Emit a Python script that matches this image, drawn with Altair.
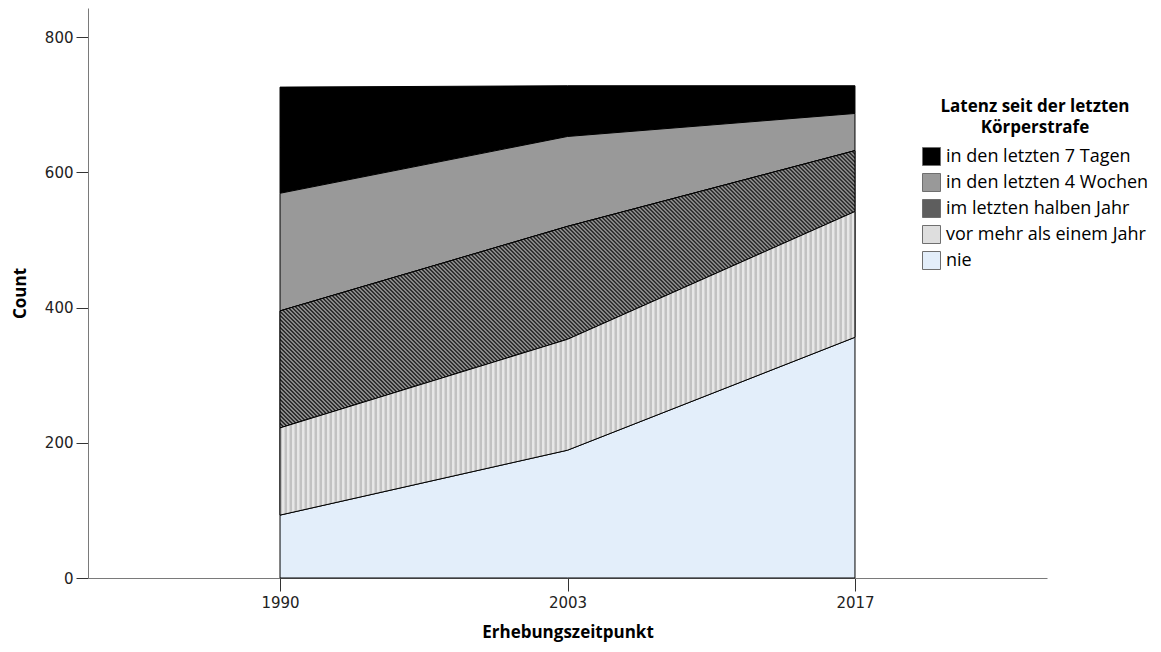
import math
import altair as alt
import pandas as pd

# ---------------- data ----------------
years = ["1990", "2003", "2017"]
categories = [
    "in den letzten 7 Tagen",
    "in den letzten 4 Wochen",
    "im letzten halben Jahr",
    "vor mehr als einem Jahr",
    "nie",
]
tage7 = [157, 75, 41]
wochen4 = [174, 133, 55]
halbjahr = [173, 167, 90]
mehrjahr = [129, 164, 186]
nie = [93, 189, 356]
y_ticks = [0, 200, 400, 600, 800]

colors = ["#000000", "#999999", "#5e5e5e", "#dedede", "#e3eefa"]

series = [tage7, wochen4, halbjahr, mehrjahr, nie]
rows = []
for ci, (cat, vals) in enumerate(zip(categories, series)):
    for yr, v in zip(years, vals):
        rows.append({"Jahr": yr, "Latenz": cat, "Count": v, "rank": len(categories) - 1 - ci})
df = pd.DataFrame(rows)

# ---------------- layout ----------------
PLOT_W, PLOT_H = 959, 570
YMAX = 843
PAD = 0.668

step = PLOT_W / (len(years) - 1 + 2 * PAD)
W = step * (len(years) - 1)
pxu = PLOT_H / YMAX


def wave_stops(n, dark, light):
    """trapezoid wave: dark plateau, ramp, light plateau, ramp"""
    st = []
    for i in range(n):
        a = i / n
        q = 1 / n
        st += [
            alt.GradientStop(color=dark, offset=a),
            alt.GradientStop(color=dark, offset=a + 0.3 * q),
            alt.GradientStop(color=light, offset=a + 0.5 * q),
            alt.GradientStop(color=light, offset=a + 0.8 * q),
        ]
    st.append(alt.GradientStop(color=dark, offset=1.0))
    return st


# hatch pattern (diagonal stripes)
bottoms = [a + b for a, b in zip(nie, mehrjahr)]
tops = [a + b + c for a, b, c in zip(nie, mehrjahr, halbjahr)]
H = (max(tops) - min(bottoms)) * pxu
n_h = int(round((W + H) / 4.0))
cfac = (W + H) / (W * W + H * H)
hatch = alt.LinearGradient(
    gradient="linear",
    stops=wave_stops(n_h, "#262626", "#929292"),
    x1=0, y1=1, x2=W * cfac, y2=1 - H * cfac,
)

# dotted pattern (faint vertical columns)
n_d = int(round(W / 5.0))
dots = alt.LinearGradient(
    gradient="linear",
    stops=wave_stops(n_d, "#c2c2c2", "#e7e7e7"),
    x1=0, y1=0, x2=1, y2=0,
)

# ---------------- chart ----------------
base = alt.Chart(df).transform_stack(
    stack="Count",
    groupby=["Jahr"],
    as_=["y0", "y1"],
    sort=[alt.SortField("rank", order="ascending")],
)

x_enc = alt.X(
    "Jahr:O",
    sort=years,
    scale=alt.Scale(type="point", padding=PAD),
    axis=alt.Axis(labelAngle=0, tickSize=13, labelPadding=4, titlePadding=14),
    title="Erhebungszeitpunkt",
)
y_enc = alt.Y(
    "y0:Q",
    stack=None,
    scale=alt.Scale(domain=[0, YMAX], nice=False),
    axis=alt.Axis(values=y_ticks, tickSize=12, labelPadding=3, titlePadding=15),
    title="Count",
)
y2_enc = alt.Y2("y1:Q")

main = base.mark_area(stroke="black", strokeWidth=1, interpolate="linear").encode(
    x=x_enc,
    y=y_enc,
    y2=y2_enc,
    color=alt.Color(
        "Latenz:N",
        scale=alt.Scale(domain=categories, range=colors),
        legend=alt.Legend(
            title=["Latenz seit der letzten", "Körperstrafe"],
            orient="none",
            legendX=834,
            legendY=91,
            symbolType="square",
            symbolSize=324,
            symbolStrokeColor="#6f6f6f",
            symbolStrokeWidth=1,
            labelOffset=5,
            labelLimit=300,
            rowPadding=3,
            titleAlign="center",
            titleAnchor="middle",
            titlePadding=10,
            titleLineHeight=21,
            titleLimit=400,
        ),
    ),
)

hatch_layer = base.transform_filter(alt.datum.Latenz == categories[2]).mark_area(
    fill=hatch, stroke="black", strokeWidth=1, interpolate="linear"
).encode(x=x_enc, y=y_enc, y2=y2_enc)

dots_layer = base.transform_filter(alt.datum.Latenz == categories[3]).mark_area(
    fill=dots, stroke="black", strokeWidth=1, interpolate="linear"
).encode(x=x_enc, y=y_enc, y2=y2_enc)

chart = (
    alt.layer(main, hatch_layer, dots_layer)
    .properties(
        width=PLOT_W,
        height=PLOT_H,
        autosize=alt.AutoSizeParams(type="none"),
        padding={"left": 80, "top": 0, "right": 106, "bottom": 64},
        background="white",
    )
    .configure_view(stroke=None)
    .configure_axis(
        domainColor="#7a7a7a",
        tickColor="#333333",
        labelColor="#222222",
        labelFont="DejaVu Sans",
        labelFontSize=15,
        titleFont="Open Sans",
        titleFontWeight="bold",
        titleFontSize=17,
        titleColor="#000000",
        grid=False,
    )
    .configure_legend(
        labelFont="Open Sans",
        labelFontSize=18,
        labelColor="#000000",
        titleFont="Open Sans",
        titleFontSize=17,
        titleFontWeight="bold",
        titleColor="#000000",
        padding=0,
    )
)

chart.save("out.html", embed_options={"renderer": "svg", "actions": False})
